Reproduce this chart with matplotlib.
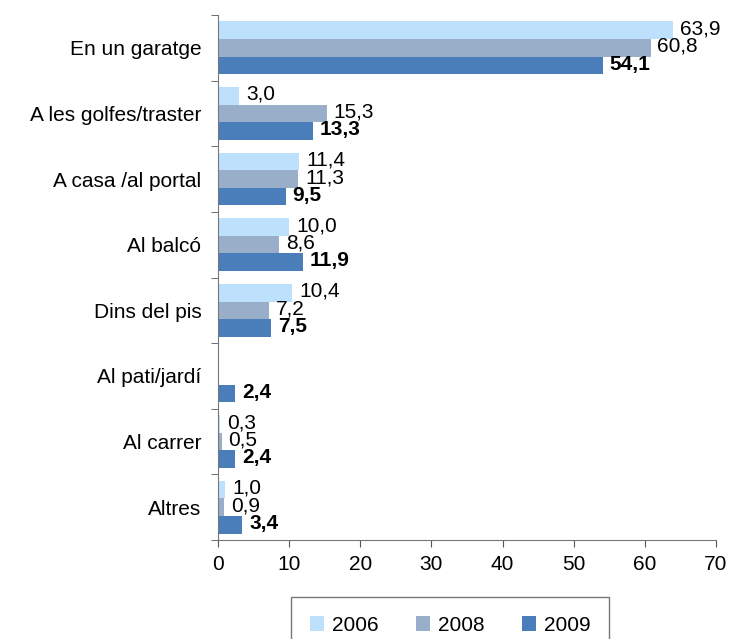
import numpy as np
import matplotlib.pyplot as plt

plt.rcParams['font.family'] = ['Liberation Sans', 'DejaVu Sans']

categories = ['En un garatge', 'A les golfes/traster', 'A casa /al portal', 'Al balcó',
              'Dins del pis', 'Al pati/jardí', 'Al carrer', 'Altres']
years = ['2006', '2008', '2009']
v2006 = [63.9, 3.0, 11.4, 10.0, 10.4, np.nan, 0.3, 1.0]
v2008 = [60.8, 15.3, 11.3, 8.6, 7.2, np.nan, 0.5, 0.9]
v2009 = [54.1, 13.3, 9.5, 11.9, 7.5, 2.4, 2.4, 3.4]
colors = ['#bde0fc', '#99aec8', '#4a7ebb']

fs = 15
fig = plt.figure(figsize=(7.32, 6.39), dpi=100)
ax = fig.add_axes([218 / 732, 1 - 540 / 639, 498 / 732, 525 / 639])

y = np.arange(len(categories))
h = 0.268
series = [v2006, v2008, v2009]
for i, (vals, col, yr) in enumerate(zip(series, colors, years)):
    pos = y + (i - 1) * h
    ax.barh(pos, vals, height=h, color=col, label=yr)
    for p, v in zip(pos, vals):
        if np.isnan(v):
            continue
        ax.annotate(f'{v:.1f}'.replace('.', ','), (v, p), xytext=(5, 1),
                    textcoords='offset points', va='center', ha='left',
                    fontsize=fs, fontweight='bold' if yr == '2009' else 'normal')

ax.set_ylim(len(categories) - 0.5, -0.5)
ax.set_xlim(0, 70)
ax.set_xticks(range(0, 71, 10))
ax.set_yticks(y)
ax.set_yticklabels(categories)
ax.set_yticks(np.arange(-0.5, len(categories)), minor=True)
ax.tick_params(axis='y', which='major', length=0, pad=12, labelsize=fs)
ax.tick_params(axis='y', which='minor', length=5, color='#555555')
ax.tick_params(axis='x', length=5, color='#555555', labelsize=fs, pad=6)
for s in ['top', 'right']:
    ax.spines[s].set_visible(False)
for s in ['left', 'bottom']:
    ax.spines[s].set_color('#777777')

leg = fig.legend(loc='upper center', bbox_to_anchor=(450 / 732, 1 - 597 / 639), ncol=3,
                 fontsize=fs, frameon=True, fancybox=False, edgecolor='#555555',
                 handlelength=0.7, handleheight=0.7, columnspacing=1.8,
                 borderpad=0.9, handletextpad=0.35, borderaxespad=0)
leg.get_frame().set_linewidth(1.0)

fig.savefig('out.png', dpi=100)
